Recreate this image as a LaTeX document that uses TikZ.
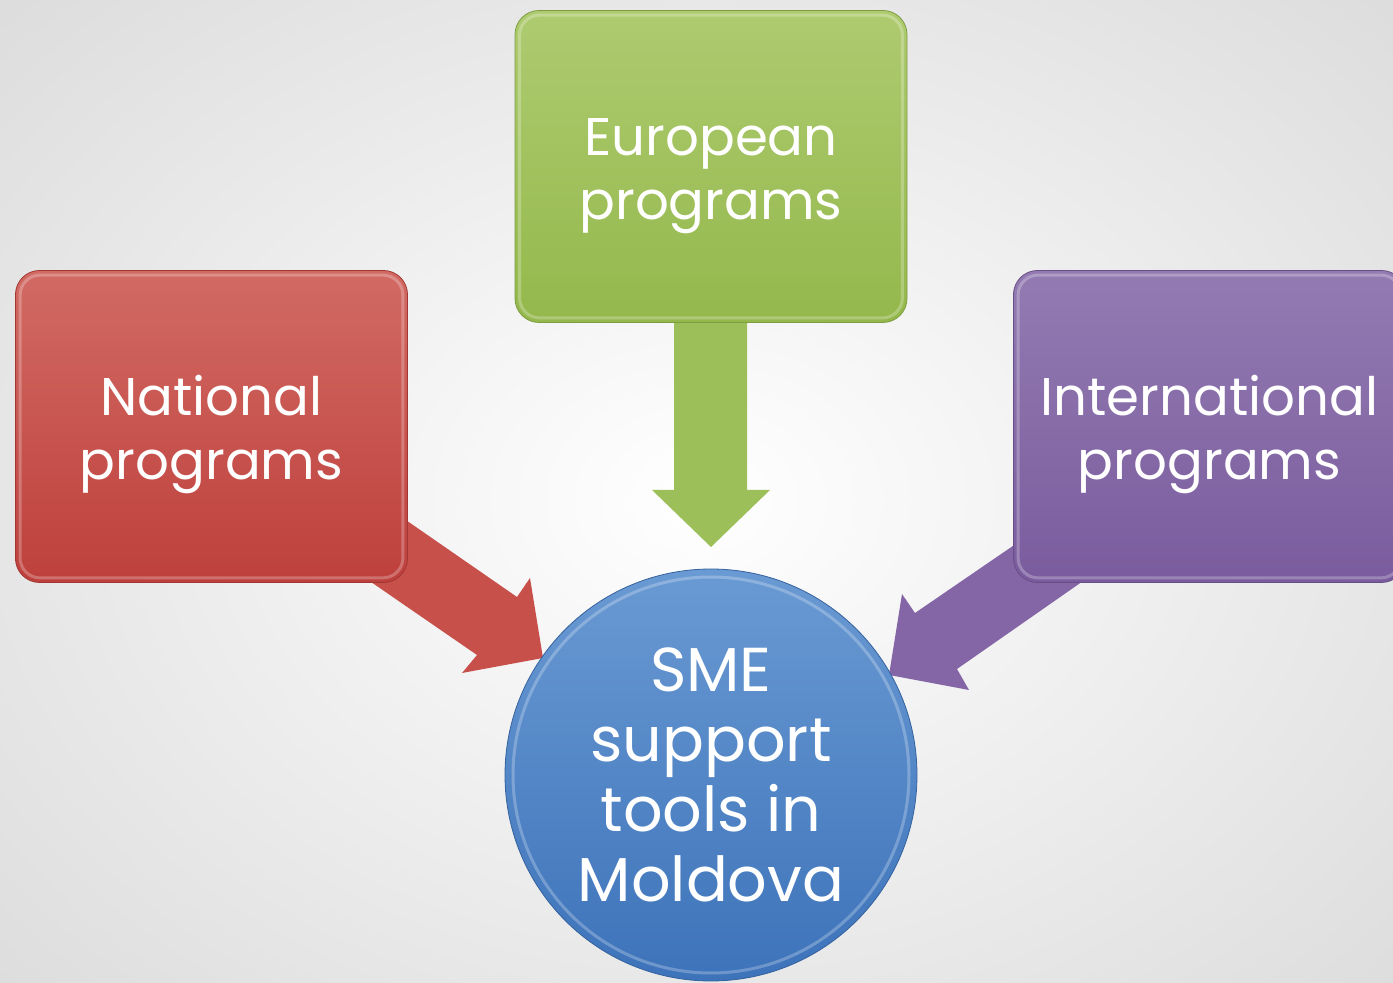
\documentclass[tikz,border=0pt]{standalone}
\usepackage{fontspec}
\setmainfont{Poppins}
\definecolor{redA}{HTML}{C8504B}
\definecolor{redTop}{HTML}{D26A64}
\definecolor{redBot}{HTML}{BE403C}
\definecolor{greenA}{HTML}{9DBF5A}
\definecolor{greenTop}{HTML}{AECB70}
\definecolor{greenBot}{HTML}{94B84C}
\definecolor{purA}{HTML}{8466A6}
\definecolor{purTop}{HTML}{937BB2}
\definecolor{purBot}{HTML}{7A5C9E}
\definecolor{bluTop}{HTML}{6A9AD3}
\definecolor{bluBot}{HTML}{3D73BA}
\newcommand{\twolines}[2]{\begin{tabular}{@{}c@{}}\rule{0pt}{30.5pt}#1\\#2\end{tabular}}
\tikzset{
  box/.style={rounded corners=12pt, minimum width=196pt, minimum height=156pt,
    inner sep=0pt, align=center, text=white, font=\fontsize{26.5pt}{32pt}\selectfont},
  rim/.style={rounded corners=10pt, draw=white, draw opacity=0.25, line width=1.5pt},
  blockarrow/.style={draw=none}
}
\begin{document}
\begin{tikzpicture}[x=0.5pt,y=-0.5pt]
\useasboundingbox (0,0) rectangle (1393,983);
\clip (0,0) rectangle (1393,983);
\shade[inner color=white, outer color=black!14] (-300,-250) rectangle (1700,1250);
% arrows
\fill[redA, blockarrow] (361,489) -- (517,597) -- (530,578) -- (543,658) -- (462,673) -- (477,655) -- (326,551) -- cycle;
\fill[purA, blockarrow] (1061,513) -- (915,613) -- (902,594) -- (889,675) -- (969,690) -- (957,669) -- (1129,549) -- cycle;
\fill[greenA, blockarrow] (674,300) -- (674,490) -- (652,490) -- (711,547) -- (770,490) -- (747,490) -- (747,300) -- cycle;
% boxes
\node[box, top color=greenTop, bottom color=greenBot, draw=greenBot!85!black] (eur) at (711,166.5) {\twolines{European}{programs}};
\node[box, top color=redTop, bottom color=redBot, draw=redBot!85!black] (nat) at (211.5,426.5) {\twolines{National}{programs}};
\node[box, top color=purTop, bottom color=purBot, draw=purBot!85!black] (int) at (1209.5,426.5) {\twolines{International}{programs}};
\foreach \n in {eur,nat,int}{
  \draw[rim] ([shift={(5,5)}]\n.north west) rectangle ([shift={(-5,-5)}]\n.south east);
}
% circle
\node[circle, minimum size=206pt, inner sep=0pt, top color=bluTop, bottom color=bluBot,
  draw=bluBot!85!black, align=center, text=white,
  font=\fontsize{31pt}{35pt}\selectfont] (sme) at (711,775) {SME\\support\\tools in\\Moldova};
\draw[white, opacity=0.25, line width=1.5pt] (sme.center) circle (99pt);
\end{tikzpicture}
\end{document}
